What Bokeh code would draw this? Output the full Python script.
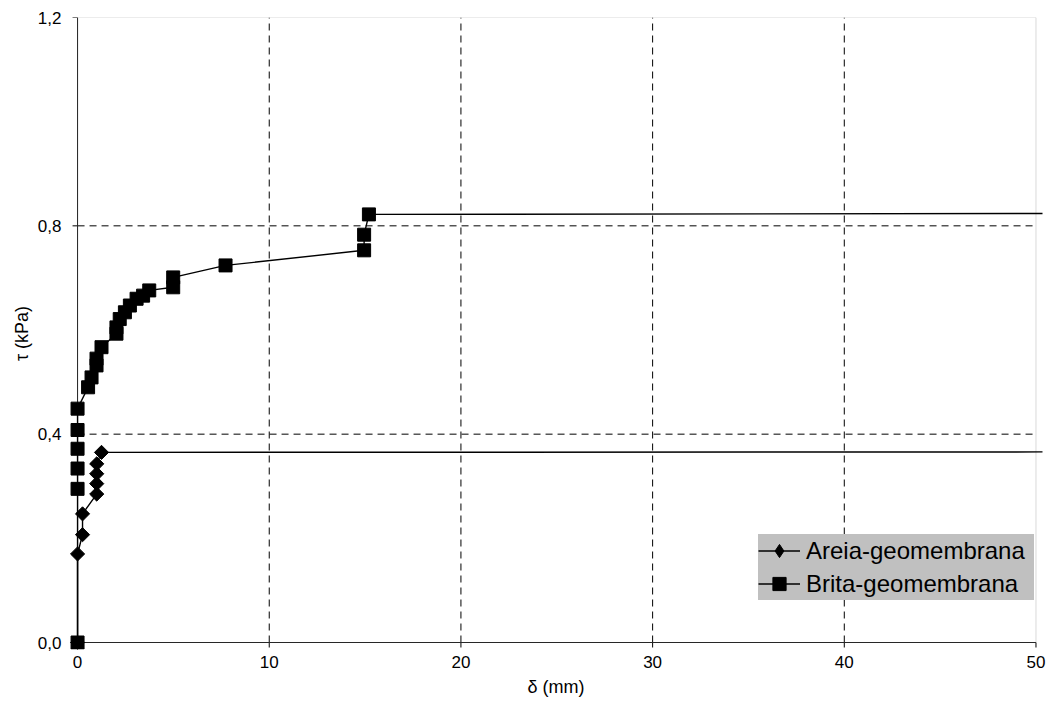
import math
from bokeh.plotting import figure
from bokeh.models import Range1d, FixedTicker, Legend, LegendItem, BoxAnnotation
from bokeh.embed import file_html
from bokeh.resources import INLINE

# Data
delta_areia = [0, 0, 0.26, 0.26, 1.0, 1.0, 1.0, 1.0, 1.25, 55]
tau_areia = [0, 0.170, 0.207, 0.247, 0.285, 0.305, 0.324, 0.343, 0.365, 0.366]

delta_brita = [0, 0, 0, 0, 0, 0, 0.55, 0.73, 0.99, 0.99, 1.25, 2.03, 2.03, 2.2,
               2.47, 2.73, 3.08, 3.42, 3.74, 4.99, 4.99, 7.72, 14.95, 14.95, 15.2, 55]
tau_brita = [0, 0.295, 0.334, 0.372, 0.408, 0.449, 0.490, 0.509, 0.532, 0.545, 0.567,
             0.593, 0.605, 0.621, 0.634, 0.647, 0.660, 0.666, 0.676, 0.682, 0.701,
             0.724, 0.753, 0.783, 0.822, 0.824]

x_ticks = [0, 10, 20, 30, 40, 50]
y_ticks = [0.0, 0.4, 0.8, 1.2]
y_tick_labels = ["0,0", "0,4", "0,8", "1,2"]

FONT = "Liberation Sans"

XPAD, YPAD = 0.42, 0.01344          # small margin so markers at 0 are not cut
TICK_X, TICK_Y = 0.261, 0.0096      # 5 px tick marks in data units

p = figure(width=1048, height=711, output_backend="svg", toolbar_location=None,
           x_range=Range1d(-XPAD, 50.34), y_range=Range1d(-YPAD, 1.2),
           min_border_left=69, min_border_right=6, min_border_top=17, min_border_bottom=62)
p.outline_line_color = None
p.background_fill_color = "white"
p.border_fill_color = "white"
p.xgrid.visible = False
p.ygrid.visible = False

x0, x1 = x_ticks[0], x_ticks[-1]
y0, y1 = y_ticks[0], y_ticks[-1]

# Plot-area border (top/right)
p.add_layout(BoxAnnotation(left=x0, right=x1, bottom=y0, top=y1, fill_color=None,
                           line_color="#808080", line_width=1, level="underlay"))

# Dashed grid lines at interior ticks
gx = [t for t in x_ticks if x0 < t < x1]
gy = [t for t in y_ticks if y0 < t < y1]
p.segment(x0=gx, y0=[y0] * len(gx), x1=gx, y1=[y1] * len(gx),
          line_color="black", line_dash="7 5", line_width=1, level="underlay")
p.segment(x0=[x0] * len(gy), y0=gy, x1=[x1] * len(gy), y1=gy,
          line_color="black", line_dash="7 5", line_width=1, level="underlay")

# Axis lines and tick marks at the data origin
p.segment(x0=[x0, x0], y0=[y0, y0], x1=[x1, x0], y1=[y0, y1], line_color="black",
          line_width=1, level="underlay")
p.segment(x0=x_ticks, y0=[y0] * len(x_ticks), x1=x_ticks, y1=[y0 - TICK_Y] * len(x_ticks),
          line_color="black", line_width=1, level="underlay")
p.segment(x0=[x0] * len(y_ticks), y0=y_ticks, x1=[x0 - TICK_X] * len(y_ticks), y1=y_ticks,
          line_color="black", line_width=1, level="underlay")

# Axes (labels only)
for ax in (p.xaxis[0], p.yaxis[0]):
    ax.axis_line_color = None
    ax.major_tick_line_color = None
    ax.major_tick_out = 0
    ax.major_tick_in = 0
    ax.minor_tick_line_color = None
    ax.major_label_text_font = FONT
    ax.major_label_text_font_size = "17px"
    ax.major_label_text_color = "black"
    ax.axis_label_text_font = FONT
    ax.axis_label_text_font_size = "18px"
    ax.axis_label_text_font_style = "normal"
    ax.axis_label_text_color = "black"

p.xaxis.ticker = FixedTicker(ticks=x_ticks)
p.xaxis.axis_label = "δ (mm)"
p.xaxis.major_label_standoff = 6
p.xaxis.axis_label_standoff = 6

p.yaxis.ticker = FixedTicker(ticks=y_ticks)
p.yaxis.major_label_overrides = {t: l for t, l in zip(y_ticks, y_tick_labels)}
p.yaxis.axis_label = "τ (kPa)"
p.yaxis.major_label_standoff = 8
p.yaxis.axis_label_standoff = 3

# Series
la = p.line(delta_areia, tau_areia, line_color="black", line_width=1.4)
sa = p.scatter(delta_areia, tau_areia, marker="square", angle=math.pi / 4, size=10,
               fill_color="black", line_color="black")
# legend key for the diamond symbol (the legend ignores marker rotation);
# it sits on the first Areia point, hidden under the Brita square at the origin
sa_key = p.scatter(delta_areia[:1], tau_areia[:1], marker="diamond", size=8,
                   fill_color="black", line_color="black")
lb = p.line(delta_brita, tau_brita, line_color="black", line_width=1.4)
sb = p.scatter(delta_brita, tau_brita, marker="square", size=13, fill_color="black",
               line_color="black")

legend = Legend(items=[LegendItem(label="Areia-geomembrana", renderers=[la, sa_key]),
                       LegendItem(label="Brita-geomembrana", renderers=[lb, sb])],
                location=(689, 49), orientation="vertical")
legend.background_fill_color = "#c0c0c0"
legend.background_fill_alpha = 1
legend.border_line_color = None
legend.label_text_font = FONT
legend.label_text_font_size = "24px"
legend.label_text_color = "black"
legend.glyph_width = 42
legend.glyph_height = 33
legend.label_height = 33
legend.label_width = 228
legend.label_standoff = 6
legend.spacing = 0
legend.padding = 0
legend.margin = 0
p.add_layout(legend, "center")

open("out.html", "w").write(file_html(p, INLINE))
